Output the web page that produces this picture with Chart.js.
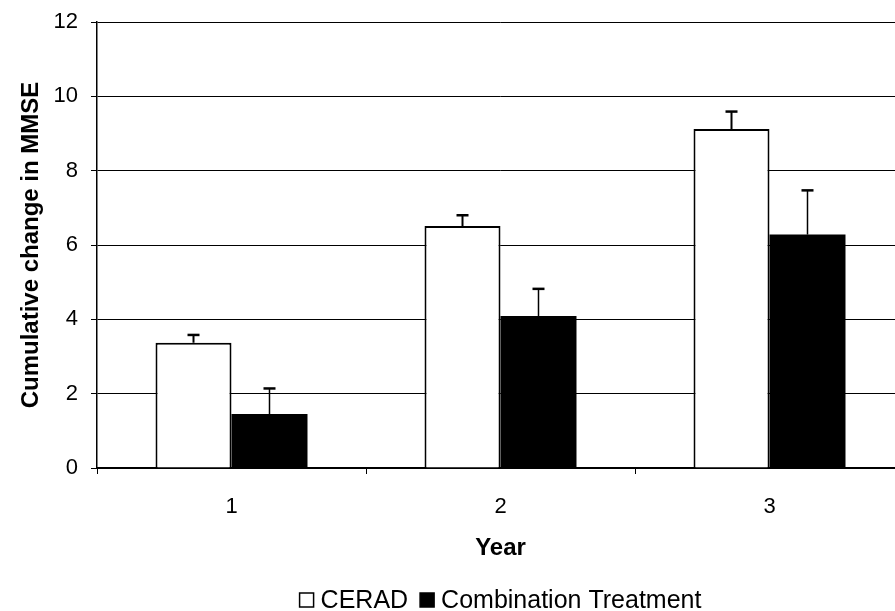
<!DOCTYPE html>
<html>
<head>
<meta charset="utf-8">
<script src="https://cdn.jsdelivr.net/npm/chart.js@4"></script>
<style>
  html, body { margin: 0; padding: 0; background: #fff; overflow: hidden; }
  #wrap { width: 895px; height: 611px; overflow: hidden; }
  #wrap canvas { display: block; }
</style>
</head>
<body>
<div id="wrap"><canvas id="chart" width="904" height="611"></canvas></div>
<script>
const years = ["1", "2", "3"];
const ceradMean = [3.37, 6.51, 9.12];
const ceradErr = [0.21, 0.29, 0.47];
const comboMean = [1.45, 4.09, 6.28];
const comboErr = [0.69, 0.73, 1.19];
const yTicks = [0, 2, 4, 6, 8, 10, 12];

const FONT = "'Liberation Sans', Arial, sans-serif";
Chart.defaults.font.family = FONT;
Chart.defaults.color = "#000";

// upper error bars only, drawn through the y scale
const errorBars = {
  id: "errorBars",
  afterDatasetsDraw(chart) {
    const ctx = chart.ctx;
    const y = chart.scales.y;
    chart.data.datasets.forEach((ds, i) => {
      const meta = chart.getDatasetMeta(i);
      meta.data.forEach((bar, j) => {
        const top = y.getPixelForValue(ds.data[j] + ds.errors[j]);
        ctx.save();
        ctx.strokeStyle = "#000";
        ctx.lineWidth = ds.errWidth;
        ctx.beginPath();
        ctx.moveTo(bar.x, bar.y);
        ctx.lineTo(bar.x, top);
        ctx.stroke();
        ctx.lineWidth = 2.5;
        ctx.beginPath();
        ctx.moveTo(bar.x - 6, top);
        ctx.lineTo(bar.x + 6, top);
        ctx.stroke();
        ctx.restore();
      });
    });
  }
};

// legend centred under the plot area, like the original
const plotLegend = {
  id: "plotLegend",
  afterDraw(chart) {
    const ctx = chart.ctx;
    const area = chart.chartArea;
    const box = 14, gap = 7, itemGap = 12, cy = 600;
    ctx.save();
    ctx.font = "25px " + FONT;
    ctx.textBaseline = "middle";
    const items = chart.data.datasets.map(ds => ({
      text: ds.label,
      fill: ds.backgroundColor,
      w: box + gap + ctx.measureText(ds.label).width
    }));
    const total = items.reduce((s, it) => s + it.w, 0) + itemGap * (items.length - 1);
    let x = (area.left + area.right) / 2 - total / 2;
    items.forEach(it => {
      ctx.fillStyle = it.fill;
      ctx.fillRect(x, cy - box / 2, box, box);
      ctx.strokeStyle = "#000";
      ctx.lineWidth = 1.5;
      ctx.strokeRect(x, cy - box / 2, box, box);
      ctx.fillStyle = "#000";
      ctx.fillText(it.text, x + box + gap, cy + 1);
      x += it.w + itemGap;
    });
    ctx.restore();
  }
};

new Chart(document.getElementById("chart"), {
  type: "bar",
  data: {
    labels: years,
    datasets: [
      {
        label: "CERAD",
        data: ceradMean,
        errors: ceradErr,
        errWidth: 2,
        backgroundColor: "#fff",
        borderColor: "#000",
        borderWidth: 2,
        borderSkipped: "bottom"
      },
      {
        label: "Combination Treatment",
        data: comboMean,
        errors: comboErr,
        errWidth: 1.5,
        backgroundColor: "#000",
        borderColor: "#000",
        borderWidth: 0
      }
    ]
  },
  options: {
    responsive: false,
    animation: false,
    categoryPercentage: 0.565,
    barPercentage: 1.0,
    layout: { padding: { top: 22, left: 15, right: 0, bottom: 52 } },
    plugins: {
      tooltip: { enabled: false },
      legend: { display: false }
    },
    scales: {
      x: {
        afterFit(axis) { axis.height = 91; axis.paddingLeft = 0; axis.paddingRight = 0; },
        grid: { drawOnChartArea: false, drawTicks: true, tickLength: 6, color: "#000", offset: true },
        border: { color: "#000", width: 2 },
        ticks: { font: { size: 22 }, padding: 20 },
        title: { display: true, text: "Year", font: { size: 24, weight: "bold" }, padding: { top: 0, bottom: -4 } }
      },
      y: {
        min: 0,
        max: 12,
        afterBuildTicks(axis) { axis.ticks = yTicks.map(v => ({ value: v })); },
        afterFit(axis) { axis.width = 82; axis.paddingTop = 0; axis.paddingBottom = 0; },
        grid: { color: "#000", lineWidth: 1, tickLength: 6 },
        border: { color: "#000", width: 1.5 },
        ticks: { font: { size: 22 }, padding: 13 },
        title: { display: true, text: "Cumulative change in MMSE", font: { size: 24, weight: "bold" }, padding: { top: 2, bottom: 0 } }
      }
    }
  },
  plugins: [errorBars, plotLegend]
});
</script>
</body>
</html>
